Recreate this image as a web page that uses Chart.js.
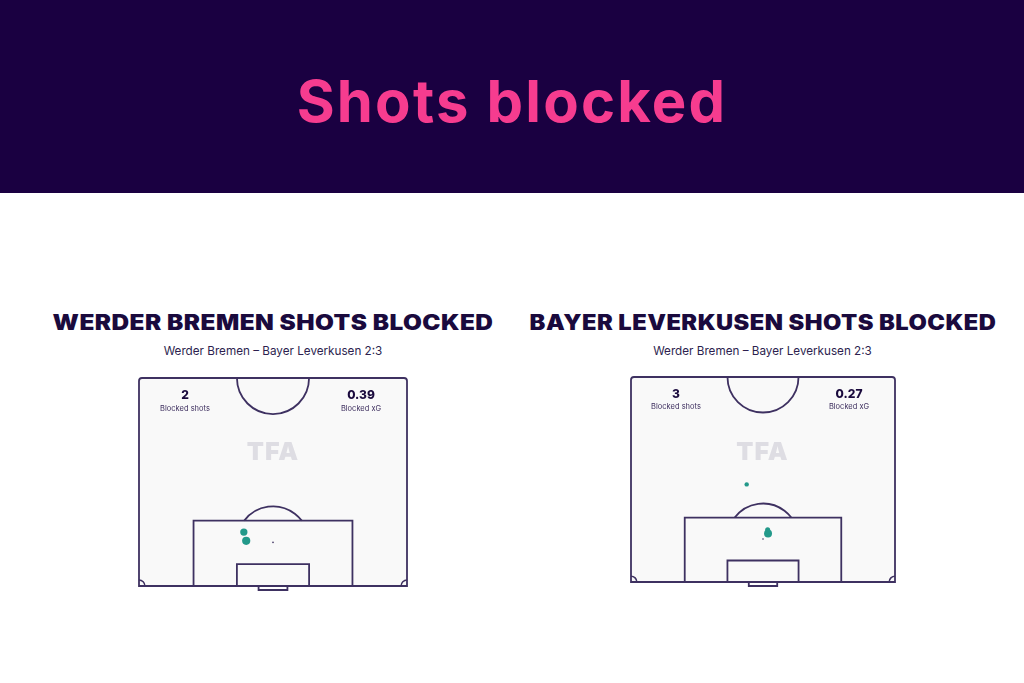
<!DOCTYPE html>
<html><head><meta charset="utf-8">
<script src="https://cdn.jsdelivr.net/npm/chart.js@4.4.0/dist/chart.umd.min.js"></script>
<style>
html,body{margin:0;padding:0}
body{width:1024px;height:683px;background:#fff;position:relative;overflow:hidden;font-family:Inter,"Noto Sans",sans-serif}
#hdr{position:absolute;left:0;top:0;width:1024px;height:193px;background:#1a0041}
.t{position:absolute;transform:translate(-50%,-50%);white-space:nowrap;line-height:1}
.main{color:#f63c8f;font-weight:700;font-size:58px;letter-spacing:2.2px}
.ttl{color:#1a0a3d;font-weight:900;font-size:21px;letter-spacing:0.4px}
.sub{color:#2d1f4f;font-size:11.7px}
.num{color:#1a0a3d;font-weight:800;font-size:12px}
.lab{color:#3d2e5e;font-size:7.5px}
.tfa{color:#dedde3;font-weight:900;font-size:25px;letter-spacing:1px}
canvas{position:absolute}
</style></head>
<body>
<div id="hdr"></div>
<div class="t main" style="left:512px;top:101px">Shots blocked</div>
<canvas id="c0" style="left:136px;top:375px;width:274px;height:219px" width="274" height="219"></canvas>
<canvas id="c1" style="left:628px;top:374px;width:270px;height:216px" width="270" height="216"></canvas>
<div id="overlay"></div>
<script>
// ---- data ----
const chartTitles = ['WERDER BREMEN SHOTS BLOCKED', 'BAYER LEVERKUSEN SHOTS BLOCKED'];
const matchLine = 'Werder Bremen – Bayer Leverkusen 2:3';
const blockedShots = [2, 3];
const blockedXG = ['0.39', '0.27'];
const statLabels = ['Blocked shots', 'Blocked xG'];
// shot positions: x across pitch (m, 0-68), y distance from goal line (m)
const bremenShotX = [26.6, 27.2];
const bremenShotY = [13.6, 11.4];
const bremenShotXG = [0.16, 0.23];
const leverkusenShotX = [29.8, 35.2, 35.3];
const leverkusenShotY = [25.0, 13.4, 12.4];
const leverkusenShotXG = [0.02, 0.04, 0.21];

// ---- layout of text overlay ----
const centers = [273, 762.5];
const titleStretch = [1.16, 1.127];
const ov = document.getElementById('overlay');
function addText(cls, txt, x, y, sx){
  const d = document.createElement('div');
  d.className = 't ' + cls; d.textContent = txt;
  d.style.left = x + 'px'; d.style.top = y + 'px';
  if (sx) d.style.transform = 'translate(-50%,-50%) scaleX(' + sx + ')';
  ov.appendChild(d);
  return d;
}
const statPos = [[185, 361, 395, 408.5], [676, 849, 394, 407]];
for (let i = 0; i < 2; i++) {
  addText('ttl', chartTitles[i], centers[i], 322, titleStretch[i]);
  addText('sub', matchLine, centers[i], 352);
  addText('tfa', 'TFA', centers[i], 451);
  const p = statPos[i];
  addText('num', String(blockedShots[i]), p[0], p[2]);
  addText('lab', statLabels[0], p[0], p[3]);
  addText('num', blockedXG[i], p[1], p[2]);
  addText('lab', statLabels[1], p[1], p[3]);
}

// ---- pitch plugin ----
const LINE = '#3e3161';
const pitchPlugin = {
  id: 'pitch',
  beforeDatasetsDraw(chart) {
    const {ctx, scales: {x, y}} = chart;
    const X = v => x.getPixelForValue(v), Y = v => y.getPixelForValue(v);
    const sx = Math.abs(X(1) - X(0));
    const L = X(0), R = X(68), T = Y(52.5), B = Y(0);
    ctx.save();
    ctx.lineWidth = 1.8; ctx.strokeStyle = LINE; ctx.fillStyle = '#f9f9f9';
    ctx.beginPath();
    ctx.moveTo(L, B); ctx.lineTo(L, T + 3); ctx.quadraticCurveTo(L, T, L + 3, T);
    ctx.lineTo(R - 3, T); ctx.quadraticCurveTo(R, T, R, T + 3); ctx.lineTo(R, B); ctx.closePath();
    ctx.fill(); ctx.stroke();
    const rect = (x0, x1, y0, y1) => { ctx.beginPath(); ctx.rect(X(x0), Y(y1), X(x1) - X(x0), Y(y0) - Y(y1)); ctx.stroke(); };
    rect(34 - 20.16, 34 + 20.16, 0, 16.5);
    rect(34 - 9.16, 34 + 9.16, 0, 5.5);
    ctx.beginPath(); ctx.rect(X(34 - 3.66), B, X(34 + 3.66) - X(34 - 3.66), 4); ctx.stroke();
    const r = 9.15 * sx;
    ctx.beginPath(); ctx.arc(X(34), T, r, 0, Math.PI); ctx.stroke();
    const ps = Y(11), pa = Y(16.5);
    const dy = ps - pa; const ang = Math.acos(dy / r);
    ctx.beginPath(); ctx.arc(X(34), ps, r, -Math.PI / 2 - ang, -Math.PI / 2 + ang); ctx.stroke();
    ctx.fillStyle = LINE; ctx.beginPath(); ctx.arc(X(34), ps, 0.8, 0, Math.PI * 2); ctx.fill();
    ctx.lineWidth = 1.5;
    ctx.beginPath(); ctx.arc(L, B, 1.5 * sx, -Math.PI / 2, 0); ctx.stroke();
    ctx.beginPath(); ctx.arc(R, B, 1.5 * sx, Math.PI, Math.PI * 1.5); ctx.stroke();
    ctx.restore();
  }
};

function makeChart(id, xs, ys, xg, pad) {
  const pts = xs.map((v, i) => ({x: v, y: ys[i]}));
  return new Chart(document.getElementById(id), {
    type: 'scatter',
    data: { datasets: [{
      data: pts,
      backgroundColor: '#23998a',
      borderWidth: 0,
      pointRadius: xg.map(v => 1.4 + 5.6 * Math.sqrt(v)),
      pointHoverRadius: xg.map(v => 1.4 + 5.6 * Math.sqrt(v))
    }]},
    options: {
      responsive: false, animation: false,
      layout: { padding: pad, autoPadding: false },
      plugins: { legend: { display: false }, tooltip: { enabled: false } },
      events: [],
      scales: {
        x: { type: 'linear', min: 0, max: 68, display: false },
        y: { type: 'linear', min: 0, max: 52.5, display: false }
      }
    },
    plugins: [pitchPlugin]
  });
}
makeChart('c0', bremenShotX, bremenShotY, bremenShotXG, {left: 3, right: 3, top: 3, bottom: 8});
makeChart('c1', leverkusenShotX, leverkusenShotY, leverkusenShotXG, {left: 3, right: 3, top: 3, bottom: 8});
</script>
</body></html>
